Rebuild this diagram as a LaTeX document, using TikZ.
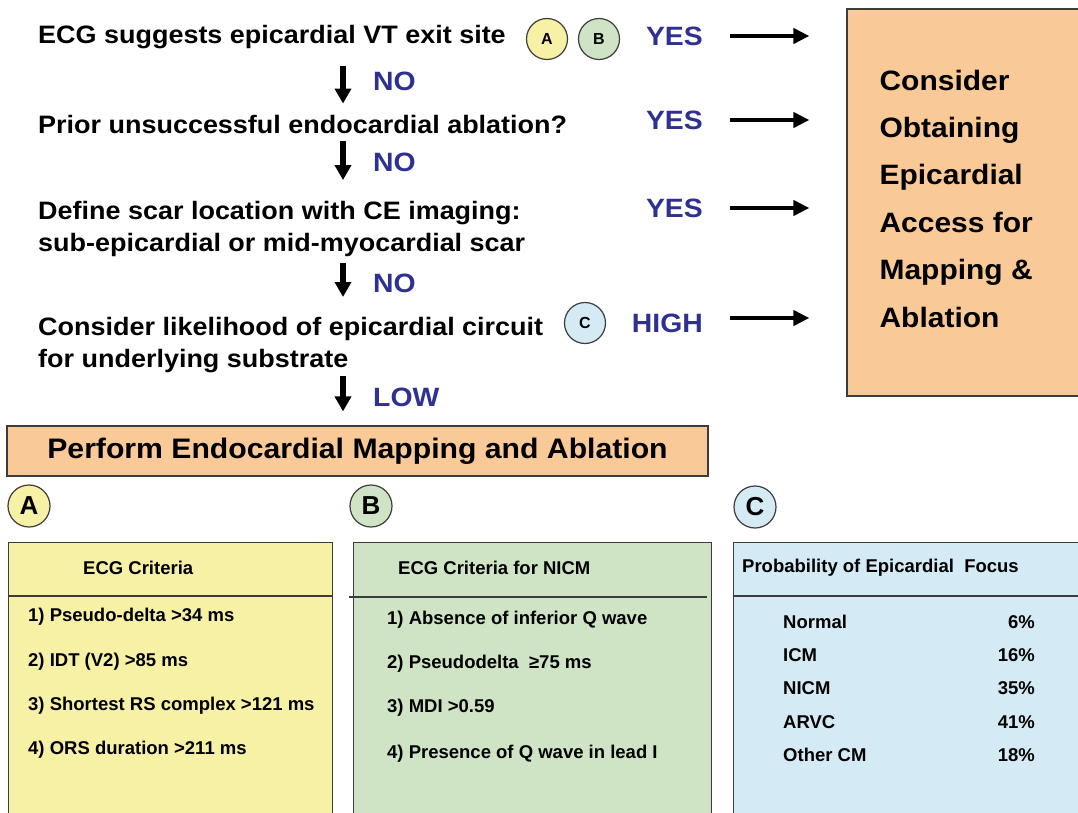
\documentclass[tikz,border=0pt]{standalone}
\usepackage{fontspec}
\setmainfont{Liberation Sans}
\newfontfamily\widesans[FakeStretch=1.07]{Liberation Sans}
\usetikzlibrary{arrows.meta,positioning}
\definecolor{ansblue}{RGB}{46,49,146}
\definecolor{epiorange}{RGB}{249,201,151}
\definecolor{crityellow}{RGB}{247,241,165}
\definecolor{critgreen}{RGB}{207,228,196}
\definecolor{critblue}{RGB}{212,235,245}
\definecolor{edge}{RGB}{60,60,60}
\newcommand{\wfont}[2]{\widesans\bfseries\fontsize{#1}{#2}\selectfont}
\newcommand{\pfont}[2]{\bfseries\fontsize{#1}{#2}\selectfont}

\begin{document}
\begin{tikzpicture}[x=1pt, y=-1pt,
  ques/.style={anchor=west, inner sep=0pt, align=left, font=\wfont{25.2}{32}},
  ans/.style={inner sep=0pt, text=ansblue, font=\wfont{26.5}{30}},
  tag/.style={circle, draw=edge, line width=1.2pt, minimum size=41pt,
              inner sep=0pt, font=\pfont{16}{16}},
  bigtag/.style={tag, minimum size=42pt, font=\pfont{26}{26}},
  epibox/.style={draw=edge, line width=1.2pt, fill=epiorange,
                 minimum width=243pt, minimum height=387pt},
  epitext/.style={anchor=west, inner sep=0pt, align=left, font=\wfont{28}{47.4}},
  endobox/.style={draw=edge, line width=1.2pt, fill=epiorange,
                  minimum width=701pt, minimum height=50pt, font=\wfont{28.2}{30}},
  crit/.style={draw=edge, line width=1.2pt, anchor=north west,
               minimum height=300pt, inner sep=0pt},
  rule/.style={draw=edge, line width=1.2pt},
  head/.style={anchor=west, inner sep=0pt, font=\pfont{18.5}{20}},
  down/.style={-{Triangle[width=16pt,length=15pt]}, line width=6.5pt},
  yes/.style={-{Triangle[width=15pt,length=16pt]}, line width=4pt},
]
  \useasboundingbox (0,0) rectangle (1078,813);
  \clip (0,0) rectangle (1078,813);

  % decision chain
  \node[ques] (q1) at (38,37) {ECG suggests epicardial VT exit site};
  \node[ques] (q2) at (38,124) {Prior unsuccessful endocardial ablation?};
  \node[ques] (q3) at (38,229) {Define scar location with CE imaging:\\sub-epicardial or mid-myocardial scar};
  \node[ques] (q4) at (38,345) {Consider likelihood of epicardial circuit\\for underlying substrate};
  \node[endobox] (endo) at (357.5,451) {Perform Endocardial Mapping and Ablation};
  \coordinate (spine) at (343,0);

  \node[ans, anchor=west] (no1) at (373,81) {NO};
  \node[ans, anchor=west] (no2) at (373,162.5) {NO};
  \node[ans, anchor=west] (no3) at (373,283) {NO};
  \node[ans, anchor=west] (low) at (373,397) {LOW};

  \draw[down, shorten <=17pt, shorten >=11pt] (q1.south -| spine) -- (q2.north -| spine);
  \draw[down, shorten <=8pt, shorten >=21pt] (q2.south -| spine) -- (q3.north -| spine);
  \draw[down, shorten <=6pt, shorten >=20pt] (q3.south -| spine) -- (q4.north -| spine);
  \draw[down, shorten <=3pt, shorten >=14pt] (q4.south -| spine) -- (endo.north -| spine);

  % epicardial side
  \node[tag, fill=crityellow] (tagA) at (547,39) {A};
  \node[tag, fill=critgreen] (tagB) at (599,39) {B};
  \node[tag, fill=critblue] (tagC) at (585,323) {C};
  \node[ans, anchor=east] (yes1) at (703,36) {YES};
  \node[ans, anchor=east] (yes2) at (703,120) {YES};
  \node[ans, anchor=east] (yes3) at (703,208) {YES};
  \node[ans, anchor=east] (high) at (703,323) {HIGH};
  \node[epibox] (epi) at (968.5,202.5) {};
  \node[epitext] (epitxt) at ([xshift=33pt,yshift=4pt]epi.west)
    {Consider\\Obtaining\\Epicardial\\Access for\\Mapping \&\\Ablation};

  \draw[yes, shorten <=27pt, shorten >=37pt] (yes1.east) -- (yes1.east -| epi.west);
  \draw[yes, shorten <=27pt, shorten >=37pt] (yes2.east) -- (yes2.east -| epi.west);
  \draw[yes, shorten <=27pt, shorten >=37pt] (yes3.east) -- (yes3.east -| epi.west);
  \draw[yes, shorten <=27pt, shorten >=37pt] ([yshift=5pt]high.east) -- ([yshift=5pt]high.east -| epi.west);

  % criteria panels
  \node[bigtag, fill=crityellow] (keyA) at (29,506) {A};
  \node[bigtag, fill=critgreen] (keyB) at (371,506) {B};
  \node[bigtag, fill=critblue] (keyC) at (755,507) {C};

  \node[crit, fill=crityellow, minimum width=324pt] (boxA) at (8,542) {};
  \node[crit, fill=critgreen, minimum width=358pt] (boxB) at (353,542) {};
  \node[crit, fill=critblue, minimum width=360pt] (boxC) at (733,542) {};
  \draw[rule] ([yshift=-54pt]boxA.north west) -- ([yshift=-54pt]boxA.north east);
  \draw[rule] ([xshift=-4pt,yshift=-55pt]boxB.north west) -- ([xshift=-5pt,yshift=-55pt]boxB.north east);
  \draw[rule] ([yshift=-54pt]boxC.north west) -- ([yshift=-54pt]boxC.north east);

  \node[head] (hA) at (83,568) {ECG Criteria};
  \node[head] (a1) at (28,617) {1) Pseudo-delta >34 ms};
  \node[head] (a2) at (28,662) {2) IDT (V2) >85 ms};
  \node[head] (a3) at (28,706) {3) Shortest RS complex >121 ms};
  \node[head] (a4) at (28,750) {4) ORS duration >211 ms};

  \node[head] (hB) at (398,568) {ECG Criteria for NICM};
  \node[head] (b1) at (387,620) {1) Absence of inferior Q wave};
  \node[head] (b2) at (387,664) {2) Pseudodelta\ \ ≥75 ms};
  \node[head] (b3) at (387,708) {3) MDI >0.59};
  \node[head] (b4) at (387,754) {4) Presence of Q wave in lead I};

  \node[head] (hC) at (742,568) {Probability of Epicardial\ \ Focus};
  \node[head] (c1) at (783,622) {Normal};
  \node[head] (c2) at (783,655) {ICM};
  \node[head] (c3) at (783,688) {NICM};
  \node[head] (c4) at (783,722) {ARVC};
  \node[head] (c5) at (783,755) {Other CM};
  \node[head, anchor=east] (p1) at (1035,622) {6\%};
  \node[head, anchor=east] (p2) at (1035,655) {16\%};
  \node[head, anchor=east] (p3) at (1035,688) {35\%};
  \node[head, anchor=east] (p4) at (1035,722) {41\%};
  \node[head, anchor=east] (p5) at (1035,755) {18\%};
\end{tikzpicture}
\end{document}
